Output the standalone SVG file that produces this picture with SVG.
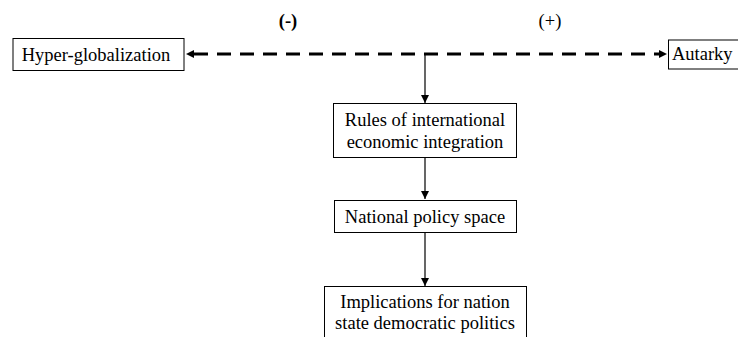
<svg xmlns="http://www.w3.org/2000/svg" width="738" height="337" viewBox="0 0 738 337">
<style>
.box{fill:#fff;stroke:#000;stroke-width:1}
.t{font-family:"Liberation Serif","Times New Roman",serif;font-size:18.5px;fill:#000;text-anchor:middle}
.dash{stroke:#000;stroke-width:3;stroke-dasharray:14 9;fill:none}
.solid{stroke:#000;stroke-width:1.2;fill:none}
</style>
<defs>
<marker id="ahs" viewBox="0 0 10 10" refX="10" refY="5" markerWidth="8" markerHeight="8" markerUnits="userSpaceOnUse" orient="auto">
<path d="M0,0 L10,5 L0,10 z" fill="#000"/>
</marker>
</defs>
<g id="connectors">
<line class="dash" x1="194" y1="54" x2="659" y2="54"/>
<path d="M194,50 L186,54 L194,58 z" fill="#000"/>
<path d="M659,50 L667,54 L659,58 z" fill="#000"/>
<line class="solid" x1="425" y1="54" x2="425" y2="103" marker-end="url(#ahs)"/>
<line class="solid" x1="425" y1="158" x2="425" y2="199" marker-end="url(#ahs)"/>
<line class="solid" x1="425" y1="233" x2="425" y2="286" marker-end="url(#ahs)"/>
</g>
<g id="label-minus"><text class="t" x="288" y="27" font-weight="bold">(-)</text></g>
<g id="label-plus"><text class="t" x="550" y="27">(+)</text></g>
<g id="hyper">
<rect class="box" x="13" y="38.5" width="171" height="32"/>
<text class="t" x="96" y="61">Hyper-globalization</text>
</g>
<g id="autarky">
<rect class="box" x="668.5" y="40" width="80" height="29"/>
<text class="t" x="672" y="60" style="text-anchor:start">Autarky</text>
</g>
<g id="rules">
<rect class="box" x="333.5" y="103.5" width="183" height="54"/>
<text class="t" x="425" y="126">Rules of international</text>
<text class="t" x="425" y="148">economic integration</text>
</g>
<g id="national">
<rect class="box" x="334.5" y="200.5" width="182" height="32"/>
<text class="t" x="425" y="223">National policy space</text>
</g>
<g id="implications">
<rect class="box" x="324.5" y="286.5" width="202" height="60"/>
<text class="t" x="425" y="308">Implications for nation</text>
<text class="t" x="425" y="329">state democratic politics</text>
</g>
</svg>
